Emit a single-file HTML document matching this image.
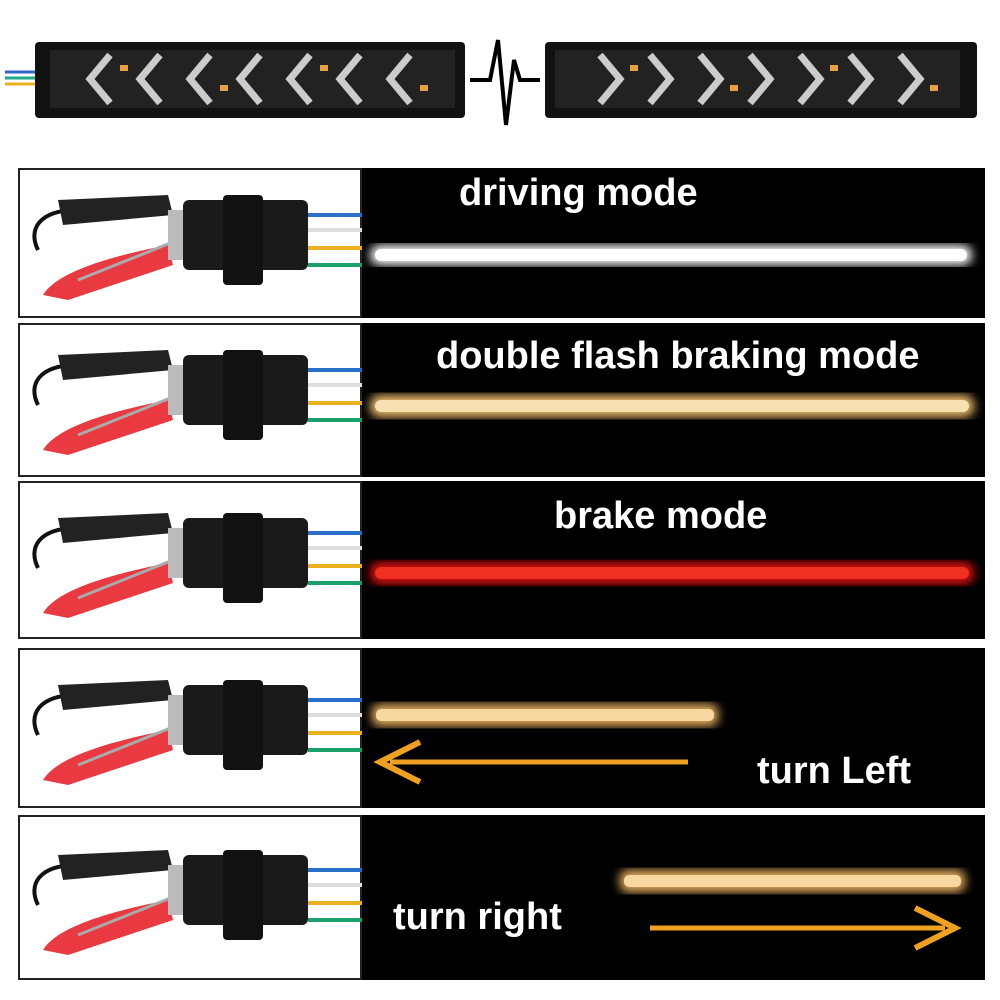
<!DOCTYPE html>
<html><head><meta charset="utf-8"><style>
body{margin:0;width:1000px;height:1000px;background:#fff;position:relative;overflow:hidden;font-family:"Liberation Sans",sans-serif}
.row{position:absolute;left:18px;width:967px;}
.lp{position:absolute;left:0;top:0;bottom:0;width:344px;background:#fff;border:2px solid #222;box-sizing:border-box}
.rp{position:absolute;left:344px;right:0;top:0;bottom:0;background:#000}
.t{position:absolute;color:#fff;font-size:38px;font-weight:bold;white-space:nowrap}
</style></head><body>
<svg width="1000" height="140" style="position:absolute;left:0;top:0">
<line x1="5" y1="78" x2="40" y2="78" stroke="#2a8" stroke-width="3"/>
<line x1="5" y1="84" x2="40" y2="84" stroke="#e9b020" stroke-width="3"/>
<line x1="5" y1="72" x2="40" y2="72" stroke="#36c" stroke-width="3"/>
<rect x="35" y="42" width="430" height="76" rx="4" fill="#111"/>
<rect x="50" y="50" width="405" height="58" fill="#222"/>
<rect x="545" y="42" width="432" height="76" rx="4" fill="#111"/>
<rect x="555" y="50" width="405" height="58" fill="#222"/>
<g fill="none" stroke="#ccc" stroke-width="7">
<polyline points="110,55 90,79 110,103"/><polyline points="160,55 140,79 160,103"/><polyline points="210,55 190,79 210,103"/><polyline points="260,55 240,79 260,103"/><polyline points="310,55 290,79 310,103"/><polyline points="360,55 340,79 360,103"/><polyline points="410,55 390,79 410,103"/>
<polyline points="600,55 620,79 600,103"/><polyline points="650,55 670,79 650,103"/><polyline points="700,55 720,79 700,103"/><polyline points="750,55 770,79 750,103"/><polyline points="800,55 820,79 800,103"/><polyline points="850,55 870,79 850,103"/><polyline points="900,55 920,79 900,103"/>
</g>
<g fill="#e8a040"><rect x="120" y="65" width="8" height="6"/><rect x="220" y="85" width="8" height="6"/><rect x="320" y="65" width="8" height="6"/><rect x="420" y="85" width="8" height="6"/><rect x="630" y="65" width="8" height="6"/><rect x="730" y="85" width="8" height="6"/><rect x="830" y="65" width="8" height="6"/><rect x="930" y="85" width="8" height="6"/></g>
<polyline points="470,80 490,80 498,40 506,125 514,60 520,80 540,80" fill="none" stroke="#000" stroke-width="4"/>
</svg>

<div class="row" style="top:168px;height:150px"><div class="lp"></div><div class="rp"></div></div>
<div class="row" style="top:323px;height:154px"><div class="lp"></div><div class="rp"></div></div>
<div class="row" style="top:481px;height:158px"><div class="lp"></div><div class="rp"></div></div>
<div class="row" style="top:648px;height:160px"><div class="lp"></div><div class="rp"></div></div>
<div class="row" style="top:815px;height:165px"><div class="lp"></div><div class="rp"></div></div>

<svg width="1000" height="1000" style="position:absolute;left:0;top:0">
<defs>
<g id="conn">
<path d="M20,80 C10,60 20,40 60,40 L150,30" stroke="#111" stroke-width="4" fill="none"/>
<path d="M40,30 L150,25 L155,45 L45,55 Z" fill="#222"/>
<path d="M25,125 C40,100 100,85 150,75 L155,95 L50,130 Z" fill="#e83a40"/>
<path d="M60,110 L160,70" stroke="#aaa" stroke-width="3"/>
<rect x="150" y="40" width="30" height="50" fill="#bbb"/>
<rect x="165" y="30" width="125" height="70" rx="6" fill="#1a1a1a"/>
<rect x="205" y="25" width="40" height="90" rx="4" fill="#111"/>
<line x1="290" y1="45" x2="344" y2="45" stroke="#2a6fc9" stroke-width="4"/>
<line x1="290" y1="60" x2="344" y2="60" stroke="#ddd" stroke-width="4"/>
<line x1="290" y1="78" x2="344" y2="78" stroke="#e9b020" stroke-width="4"/>
<line x1="290" y1="95" x2="344" y2="95" stroke="#1aa06a" stroke-width="4"/>
</g>
<filter id="gl"><feGaussianBlur stdDeviation="5"/></filter>
</defs>
<use href="#conn" x="18" y="170"/>
<use href="#conn" x="18" y="325"/>
<use href="#conn" x="18" y="488"/>
<use href="#conn" x="18" y="655"/>
<use href="#conn" x="18" y="825"/>

<rect x="370" y="245" width="602" height="20" rx="10" fill="#fff" filter="url(#gl)"/>
<rect x="375" y="249" width="592" height="12" rx="6" fill="#fff"/>
<rect x="370" y="395" width="604" height="22" rx="10" fill="#f0c070" filter="url(#gl)"/>
<rect x="375" y="400" width="594" height="12" rx="6" fill="#f8e0b0"/>
<rect x="370" y="562" width="604" height="22" rx="10" fill="#e01010" filter="url(#gl)"/>
<rect x="375" y="567" width="594" height="12" rx="6" fill="#f03020"/>
<rect x="372" y="704" width="346" height="22" rx="8" fill="#e8b060" filter="url(#gl)"/>
<rect x="376" y="709" width="338" height="12" rx="5" fill="#f6d8a0"/>
<rect x="620" y="870" width="345" height="22" rx="8" fill="#e8b060" filter="url(#gl)"/>
<rect x="624" y="875" width="337" height="12" rx="5" fill="#f6d8a0"/>

<line x1="688" y1="762" x2="390" y2="762" stroke="#f0a020" stroke-width="5"/>
<polyline points="420,742 380,762 420,782" fill="none" stroke="#f0a020" stroke-width="6"/>
<line x1="650" y1="928" x2="945" y2="928" stroke="#f0a020" stroke-width="5"/>
<polyline points="915,908 955,928 915,948" fill="none" stroke="#f0a020" stroke-width="6"/>
</svg>

<div class="t" style="left:459px;top:172px">driving mode</div>
<div class="t" style="left:436px;top:335px">double flash braking mode</div>
<div class="t" style="left:554px;top:495px">brake mode</div>
<div class="t" style="left:757px;top:750px">turn Left</div>
<div class="t" style="left:393px;top:896px">turn right</div>
</body></html>
